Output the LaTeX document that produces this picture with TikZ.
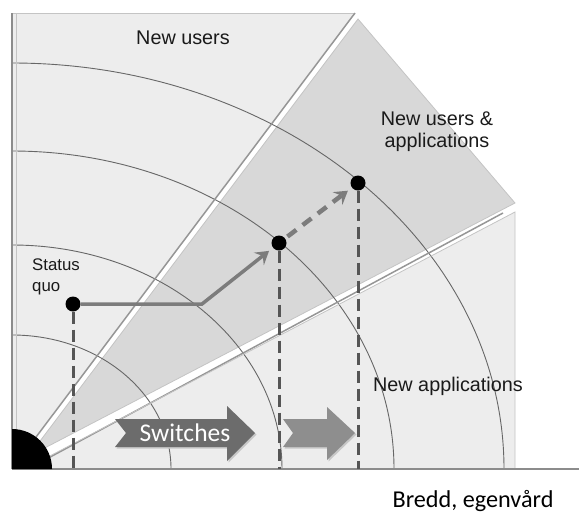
\documentclass[tikz,border=0pt]{standalone}
\usepackage{fontspec}
\setmainfont{Liberation Sans}
\newfontfamily\calfont{Carlito}
\usetikzlibrary{arrows.meta}
\definecolor{paleregion}{HTML}{EDEDED}
\definecolor{bandfill}{HTML}{D8D8D8}
\definecolor{edgegray}{HTML}{969696}
\definecolor{lightedge}{HTML}{C4C4C4}
\definecolor{ringgray}{HTML}{676767}
\definecolor{guidegray}{HTML}{555555}
\definecolor{pathgray}{HTML}{7C7C7C}
\definecolor{arrowdark}{HTML}{6C6C6C}
\definecolor{arrowlight}{HTML}{8E8E8E}
\definecolor{textgray}{HTML}{1A1A1A}
\definecolor{axisgray}{HTML}{8C8C8C}

\begin{document}
\begin{tikzpicture}[x=1pt,y=-1pt,
  ring/.style={draw=ringgray,line width=0.9pt},
  dot/.style={circle,fill=black,inner sep=0pt,minimum size=15pt},
  guide/.style={draw=guidegray,line width=3pt,dash pattern=on 12pt off 6pt},
  move/.style={draw=pathgray,line width=3.5pt,
    -{Stealth[length=13pt,width=16pt,inset=5pt]},shorten >=5pt},
  movedash/.style={move,line width=4.5pt,dash pattern=on 11pt off 8pt,shorten <=3pt},
  label/.style={text=textgray,font=\fontsize{19.8}{21.5}\selectfont,inner sep=0pt,align=center},
  axisline/.style={draw=axisgray,line width=1.5pt},
  blockshadow/.style={fill=black!22},
]
\useasboundingbox (0,0) rectangle (579,515);
\coordinate (O) at (12,469);

% three sectors
\fill[paleregion] (12,13) -- (355,13) -- (O) -- cycle;
\fill[paleregion] (25,469) -- (515,212) -- (515,469) -- cycle;
\filldraw[fill=bandfill,draw=lightedge,line width=0.8pt]
  (28.4,456.5) -- (358,19) -- (515,203) -- cycle;

% concentric rings
\begin{scope}
  \clip (12,13) -- (356,13) -- (358,19) -- (515,203) -- (515,469) -- (12,469) -- cycle;
  \foreach \rx/\ry in {159/134,270/224,382/318,492/406}
    \draw[ring] (O) ++(\rx pt,0) arc[start angle=0,end angle=90,x radius=\rx pt,y radius=\ry pt];
\end{scope}

% sector borders
\draw[lightedge,line width=1pt] (12,13) -- (355,13);
\draw[lightedge,line width=0.8pt] (16,13) -- (16,469);
\draw[edgegray,line width=1.5pt] (355,13) -- (O);
\draw[edgegray,line width=1.5pt] (40,462.5) -- (503,213);
\draw[lightedge,line width=0.8pt] (25,469) -- (515,212) -- (515,469);

% axes
\draw[axisline] (12,13) -- (O);
\draw[axisline] (O) -- (579,469);

% positions
\node[dot] (sq) at (73,304) {};
\node[dot] (m1) at (279,243) {};
\node[dot] (m2) at (358,183) {};
\coordinate (bend) at (202,304);

\draw[guide] (sq) -- (sq |- O);
\draw[guide] (m1) -- (m1 |- O);
\draw[guide] (m2) -- (m2 |- O);

\draw[move] (sq) -- (bend) -- (m1);
\draw[movedash] (m1) -- (m2);

% block arrows
\fill[blockshadow] (116.5,420.5) -- (228.5,420.5) -- (228.5,407.5) -- (256.5,434.5) -- (228.5,462.5) -- (228.5,448.5) -- (116.5,448.5) -- (127.5,434.5) -- cycle;
\fill[arrowdark] (115,419) -- (227,419) -- (227,406) -- (255,433) -- (227,461) -- (227,447) -- (115,447) -- (126,433) -- cycle;
\node[text=white,font=\calfont\fontsize{25.5}{30}\selectfont,inner sep=0pt] (sw) at (185,433) {Switches};
\fill[blockshadow] (284.5,420.5) -- (328.5,420.5) -- (328.5,408.5) -- (356.5,434.5) -- (328.5,461.5) -- (328.5,448.5) -- (284.5,448.5) -- (294.5,434.5) -- cycle;
\fill[arrowlight] (283,419) -- (327,419) -- (327,407) -- (355,433) -- (327,460) -- (327,447) -- (283,447) -- (293,433) -- cycle;

% origin
\fill[black] (O) -- ++(40pt,0) arc[start angle=0,end angle=90,radius=40pt] -- cycle;

% labels
\node[label,anchor=base] (nu) at (183,44) {New users};
\node[label,anchor=north] (nua) at (437,112) {New users \&\\applications};
\node[label,font=\fontsize{16.8}{20.5}\selectfont,align=left,anchor=north west] (sqt) at (32,259) {Status\\quo};
\node[label,anchor=base] (na) at (448,391) {New applications};
\node[font=\calfont\fontsize{24.2}{28}\selectfont,text=black,inner sep=0pt,anchor=base] (xl) at (473,507) {Bredd, egenvård};
\end{tikzpicture}
\end{document}
